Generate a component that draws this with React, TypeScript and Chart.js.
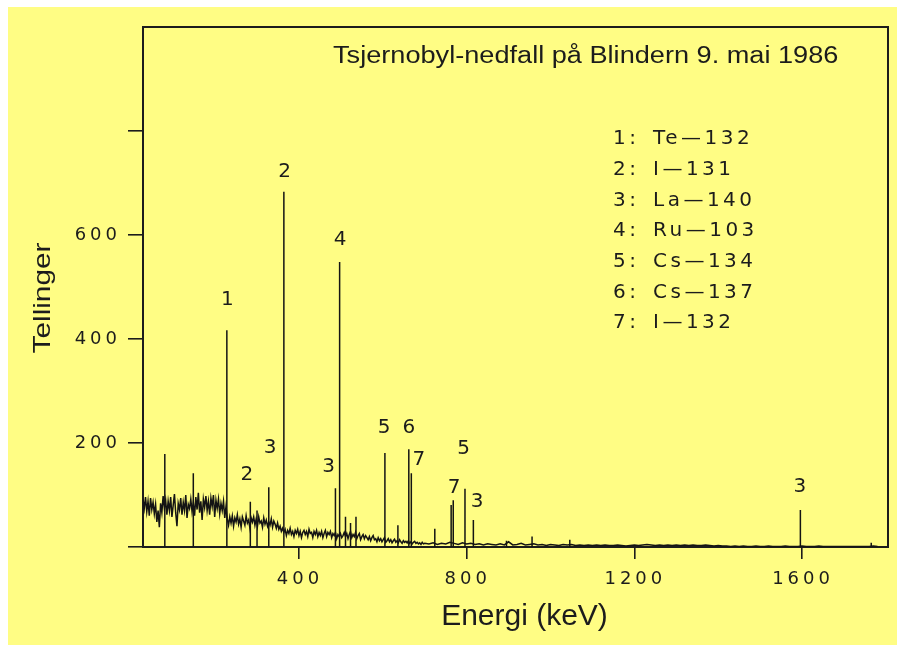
import React, { useEffect, useRef } from 'react';
import { Chart, registerables } from 'chart.js';

Chart.register(...registerables);

// ---------- texts ----------
const chartTitle = 'Tsjernobyl-nedfall på Blindern 9. mai 1986';
const xAxisTitle = 'Energi (keV)';
const yAxisTitle = 'Tellinger';

// ---------- axes ----------
const xMin = 28;
const xMax = 1805;
const yMin = 0;
const yMax = 1000;
const xTickValues = [400, 800, 1200, 1600];
const yTickValues = [0, 200, 400, 600, 800];
const yTickLabels = ['', '200', '400', '600', ''];

// ---------- legend (nuclide key) ----------
const legendNumbers = ['1:', '2:', '3:', '4:', '5:', '6:', '7:'];
const legendNuclides = ['Te—132', 'I—131', 'La—140', 'Ru—103', 'Cs—134', 'Cs—137', 'I—132'];

// ---------- continuum spectrum (keV, counts) ----------
const spectrumEnergy = [
  28, 31, 34, 37, 40, 43, 46, 49, 52, 55,
  58, 61, 64, 67, 70, 73, 76, 79, 82, 85,
  88, 91, 94, 97, 100, 103, 106, 109, 112, 115,
  118, 121, 124, 127, 130, 133, 136, 139, 142, 145,
  148, 151, 154, 157, 160, 163, 166, 169, 172, 175,
  178, 181, 184, 187, 190, 193, 196, 199, 202, 205,
  208, 211, 214, 217, 220, 223, 226, 229, 232, 235,
  238, 241, 244, 247, 250, 253, 256, 259, 262, 265,
  268, 271, 274, 277, 280, 283, 286, 289, 292, 295,
  298, 301, 304, 307, 310, 313, 316, 319, 322, 325,
  328, 331, 334, 337, 340, 343, 346, 349, 352, 355,
  358, 361, 364, 367, 370, 373, 376, 379, 382, 385,
  388, 391, 394, 397, 400, 403, 406, 409, 412, 415,
  418, 421, 424, 427, 430, 433, 436, 439, 442, 445,
  448, 451, 454, 457, 460, 463, 466, 469, 472, 475,
  478, 481, 484, 487, 490, 493, 496, 499, 502, 505,
  508, 511, 514, 517, 520, 523, 526, 529, 532, 535,
  538, 541, 544, 547, 550, 553, 556, 559, 562, 565,
  568, 571, 574, 577, 580, 583, 586, 589, 592, 595,
  598, 601, 604, 607, 610, 613, 616, 619, 622, 625,
  628, 631, 634, 637, 640, 643, 646, 649, 652, 655,
  658, 661, 664, 667, 670, 673, 676, 679, 682, 685,
  688, 691, 694, 697, 700,
  710, 720, 730, 740, 750, 760, 770, 780, 790, 800,
  810, 820, 830, 840, 850, 860, 870, 880, 890, 900,
  910, 920, 930, 940, 950, 960, 970, 980, 990, 1000,
  1010, 1020, 1030, 1040, 1050, 1060, 1070, 1080, 1090, 1100,
  1110, 1120, 1130, 1140, 1150, 1160, 1170, 1180, 1190, 1200,
  1210, 1220, 1230, 1240, 1250, 1260, 1270, 1280, 1290, 1300,
  1310, 1320, 1330, 1340, 1350, 1360, 1370, 1380, 1390, 1400,
  1410, 1420, 1430, 1440, 1450, 1460, 1470, 1480, 1490, 1500,
  1510, 1520, 1530, 1540, 1550, 1560, 1570, 1580, 1590, 1600,
  1610, 1620, 1630, 1640, 1650, 1660, 1670, 1680, 1690, 1700,
  1710, 1720, 1730, 1740, 1750, 1760, 1770, 1780,
];
const spectrumCounts = [
  92, 74, 96, 68, 88, 60, 94, 72, 86, 64,
  82, 48, 70, 38, 84, 66, 98, 74, 90, 62,
  88, 70, 96, 58, 80, 102, 66, 40, 84, 72,
  94, 62, 86, 70, 100, 56, 82, 74, 92, 68,
  86, 60, 96, 72, 104, 66, 88, 52, 92, 76,
  98, 70, 88, 62, 94, 78, 100, 58, 90, 74,
  92, 64, 84, 70, 88, 56, 78, 54, 42, 58,
  46, 60, 40, 56, 48, 62, 44, 54, 38, 58,
  50, 42, 60, 46, 52, 36, 56, 48, 58, 42,
  54, 40, 58, 46, 50, 38, 56, 44, 52, 40,
  48, 42, 54, 38, 50, 44, 36, 46, 34, 40,
  30, 36, 28, 34, 22, 32, 26, 36, 24, 30,
  20, 32, 26, 34, 22, 30, 18, 28, 32, 24,
  30, 20, 34, 26, 28, 18, 30, 24, 32, 20,
  28, 22, 30, 18, 26, 32, 20, 28, 24, 30,
  18, 26, 22, 28, 16, 24, 20, 26, 18, 22,
  28, 20, 26, 16, 24, 30, 18, 24, 20, 28,
  16, 22, 26, 14, 20, 24, 16, 22, 18, 14,
  20, 12, 18, 22, 14, 16, 10, 18, 12, 16,
  10, 14, 18, 9, 12, 16, 10, 14, 8, 12,
  15, 9, 12, 8, 14, 10, 7, 12, 9, 11,
  8, 12, 7, 10, 6, 9, 11, 7, 9, 6,
  8, 5, 9, 6, 7,
  6, 8, 5, 7, 6, 9, 7, 5, 8, 6,
  7, 5, 6, 4, 6, 5, 4, 6, 4, 10,
  4, 5, 7, 4, 5, 6, 4, 5, 3, 5,
  4, 3, 5, 4, 5, 3, 4, 3, 4, 3,
  4, 3, 4, 3, 3, 4, 3, 2, 3, 4,
  3, 4, 5, 4, 3, 4, 3, 4, 3, 4,
  3, 4, 3, 4, 3, 3, 4, 3, 2, 3,
  2, 2, 1, 2, 1, 2, 1, 1, 2, 1,
  1, 2, 1, 1, 1, 2, 1, 1, 1, 2,
  1, 1, 1, 2, 1, 1, 1, 1, 1, 1,
  1, 1, 1, 1, 1, 1, 2, 1,
];

// ---------- photopeaks (keV, peak counts) ----------
const peakEnergy = [80, 148, 228, 284, 300, 328, 364, 487, 497, 511, 523, 536, 605, 636, 662, 668, 724, 763, 768, 796, 816, 895, 956, 1046, 1596, 1765];
const peakCounts = [179, 142, 417, 87, 70, 115, 683, 113, 548, 58, 46, 58, 181, 42, 188, 142, 35, 81, 90, 112, 52, 12, 20, 14, 71, 8];

// ---------- peak labels (nuclide number, keV, counts) ----------
const peakLabelText = ['1', '2', '4', '2', '3', '3', '5', '6', '7', '7', '5', '3', '3'];
const peakLabelEnergy = [229, 366, 498, 276, 331, 471, 603, 662, 686, 770, 793, 825, 1595];
const peakLabelCounts = [475, 721, 590, 138, 190, 154, 229, 229, 167, 113, 188, 87, 115];

const INK = '#1c1c1c';
const BG = '#FFFD84';

const tickSpacingPlugin = {
  id: 'tickSpacing',
  beforeDraw(chart: any) {
    (chart.ctx as any).letterSpacing = '4px';
  },
  beforeDatasetsDraw(chart: any) {
    (chart.ctx as any).letterSpacing = '0px';
  },
};

const annotationsPlugin = {
  id: 'annotations',
  afterDraw(chart: any) {
    const ctx = chart.ctx as CanvasRenderingContext2D;
    const area = chart.chartArea;
    const xs = chart.scales.x;
    const ys = chart.scales.y;
    ctx.save();
    (ctx as any).letterSpacing = '0px';
    ctx.strokeStyle = INK;
    ctx.fillStyle = INK;

    // frame: top and right sides
    ctx.lineWidth = 2;
    ctx.beginPath();
    ctx.moveTo(area.left - 1, area.top);
    ctx.lineTo(area.right, area.top);
    ctx.lineTo(area.right, area.bottom + 1);
    ctx.stroke();

    // title inside the frame
    ctx.save();
    ctx.font = '23px "Liberation Sans", Arial, sans-serif';
    ctx.textAlign = 'left';
    ctx.textBaseline = 'alphabetic';
    ctx.translate(area.left + 190, area.top + 36);
    ctx.scale(1.18, 1);
    ctx.fillText(chartTitle, 0, 0);
    ctx.restore();

    // nuclide key
    ctx.save();
    ctx.font = '20px "DejaVu Sans", sans-serif';
    (ctx as any).letterSpacing = '3.5px';
    ctx.textAlign = 'left';
    ctx.textBaseline = 'middle';
    for (let i = 0; i < legendNumbers.length; i++) {
      const y = area.top + 112 + i * 30.67;
      ctx.fillText(legendNumbers[i], area.left + 470, y);
      ctx.fillText(legendNuclides[i], area.left + 510, y);
    }
    ctx.restore();

    // peak labels
    ctx.save();
    ctx.font = '20px "DejaVu Sans", sans-serif';
    ctx.textAlign = 'center';
    ctx.textBaseline = 'middle';
    for (let i = 0; i < peakLabelText.length; i++) {
      const px = xs.getPixelForValue(peakLabelEnergy[i]);
      const py = ys.getPixelForValue(peakLabelCounts[i]);
      ctx.fillText(peakLabelText[i], px, py);
    }
    ctx.restore();

    // axis titles
    ctx.save();
    ctx.font = '30px "Liberation Sans", Arial, sans-serif';
    ctx.textAlign = 'center';
    ctx.textBaseline = 'alphabetic';
    ctx.fillText(xAxisTitle, (area.left + area.right) / 2 + 9, area.bottom + 78);
    ctx.restore();

    ctx.save();
    ctx.font = '24px "Liberation Sans", Arial, sans-serif';
    ctx.textAlign = 'center';
    ctx.textBaseline = 'alphabetic';
    ctx.translate(42, (area.top + area.bottom) / 2 + 11);
    ctx.rotate(-Math.PI / 2);
    ctx.scale(1.24, 1);
    ctx.fillText(yAxisTitle, 0, 0);
    ctx.restore();

    ctx.restore();
  },
};

export default function App() {
  const canvasRef = useRef<HTMLCanvasElement | null>(null);

  useEffect(() => {
    const canvas = canvasRef.current;
    if (!canvas) return;

    const spectrumData = spectrumEnergy.map((e, i) => ({ x: e, y: spectrumCounts[i] }));
    const peakData: { x: number; y: number | null }[] = [];
    peakEnergy.forEach((e, i) => {
      peakData.push({ x: e, y: 0 });
      peakData.push({ x: e, y: peakCounts[i] });
      peakData.push({ x: e, y: null });
    });

    const chart = new Chart(canvas, {
      type: 'line',
      data: {
        datasets: [
          {
            label: 'Spektrum',
            data: spectrumData,
            borderColor: '#141414',
            borderWidth: 1.5,
            pointRadius: 0,
            tension: 0,
            fill: false,
          },
          {
            label: 'Topper',
            data: peakData as any,
            borderColor: '#141414',
            borderWidth: 1.5,
            pointRadius: 0,
            tension: 0,
            fill: false,
            spanGaps: false,
          },
        ],
      },
      options: {
        animation: false,
        responsive: false,
        devicePixelRatio: 1,
        layout: { padding: { top: 20, right: 9, left: 0, bottom: 0 } },
        plugins: {
          legend: { display: false },
          tooltip: { enabled: false },
          title: { display: false },
        },
        scales: {
          x: {
            type: 'linear',
            min: xMin,
            max: xMax,
            afterBuildTicks: (scale: any) => {
              scale.ticks = xTickValues.map((v) => ({ value: v }));
            },
            afterFit: (scale: any) => {
              scale.height = 98;
              scale.paddingLeft = 0;
              scale.paddingRight = 0;
            },
            grid: {
              display: true,
              drawOnChartArea: false,
              drawTicks: true,
              tickLength: 12,
              color: INK,
              lineWidth: 1.6,
            },
            border: { display: true, color: INK, width: 2 },
            ticks: {
              autoSkip: false,
              maxRotation: 0,
              minRotation: 0,
              padding: 10,
              labelOffset: 1,
              color: INK,
              font: { family: '"DejaVu Sans", sans-serif', size: 18 },
              callback: (v: any) => String(v),
            },
          },
          y: {
            type: 'linear',
            min: yMin,
            max: yMax,
            afterBuildTicks: (scale: any) => {
              scale.ticks = yTickValues.map((v) => ({ value: v }));
            },
            afterFit: (scale: any) => {
              scale.width = 135;
              scale.paddingTop = 0;
              scale.paddingBottom = 0;
            },
            grid: {
              display: true,
              drawOnChartArea: false,
              drawTicks: true,
              tickLength: 15,
              color: INK,
              lineWidth: 1.6,
            },
            border: { display: true, color: INK, width: 2 },
            ticks: {
              padding: 7,
              color: INK,
              font: { family: '"DejaVu Sans", sans-serif', size: 18 },
              callback: (_v: any, index: number) => yTickLabels[index] ?? '',
            },
          },
        },
      },
      plugins: [tickSpacingPlugin, annotationsPlugin],
    });

    return () => chart.destroy();
  }, []);

  return (
    <div
      style={{
        position: 'absolute',
        left: 8,
        top: 7,
        width: 889,
        height: 638,
        background: BG,
      }}
    >
      <canvas ref={canvasRef} width={889} height={638} style={{ display: 'block' }} />
    </div>
  );
}
